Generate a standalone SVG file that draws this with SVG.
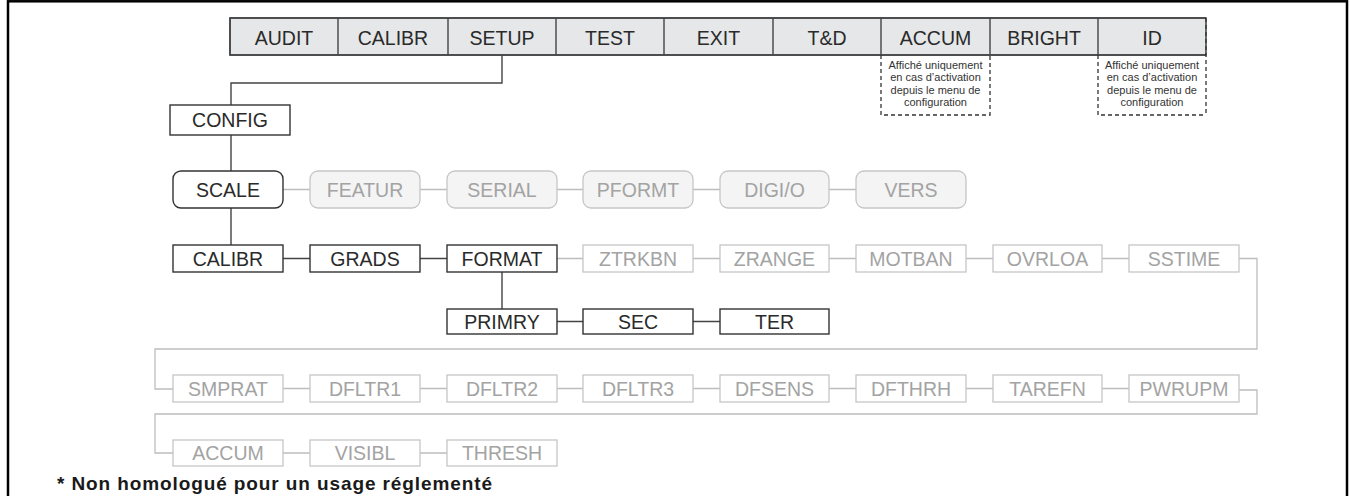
<svg xmlns="http://www.w3.org/2000/svg" width="1351" height="496" viewBox="0 0 1351 496">
<style>
text{font-family:"Liberation Sans",Arial,sans-serif;text-anchor:middle}
.lbl{font-size:19.5px;fill:#2a2a2a}
.glbl{font-size:19.5px;fill:#a3a3a3}
.note{font-size:11px;fill:#333}
.dk{fill:#fff;stroke:#333;stroke-width:1.4}
.gy{fill:#fff;stroke:#c6c6c6;stroke-width:1.3}
.gr{fill:#f4f4f4;stroke:#c6c6c6;stroke-width:1.3}
.bar{fill:#e6e7e8;stroke:#333;stroke-width:1.4}
.cd{fill:none;stroke:#444;stroke-width:1.4}
.cg{fill:none;stroke:#bdbdbd;stroke-width:1.3}
.dash{fill:none;stroke:#333;stroke-width:1.3;stroke-dasharray:4 3}
</style>
<rect x="8" y="1.3" width="1339" height="510" fill="#fff" stroke="#000" stroke-width="2.5"/>

<g id="menu-bar">
<rect class="bar" x="230" y="18" width="976" height="37" stroke="none"/>
<path class="cd" d="M1206 18H230V55H1206M338 18V55M448 18V55M556 18V55M664 18V55M773 18V55M881 18V55M990 18V55M1098 18V55"/>
<path class="dash" d="M1206 18V115"/>
</g>
<g id="m-audit"><text class="lbl" x="284" y="44.5">AUDIT</text></g>
<g id="m-calibr"><text class="lbl" x="393" y="44.5">CALIBR</text></g>
<g id="m-setup"><text class="lbl" x="502" y="44.5">SETUP</text></g>
<g id="m-test"><text class="lbl" x="610" y="44.5">TEST</text></g>
<g id="m-exit"><text class="lbl" x="718.5" y="44.5">EXIT</text></g>
<g id="m-td"><text class="lbl" x="827" y="44.5">T&amp;D</text></g>
<g id="m-accum"><text class="lbl" x="935.5" y="44.5">ACCUM</text>
<path class="dash" d="M881 55V115H990V55"/>
<text class="note" x="935.5" y="69">Affiché uniquement</text>
<text class="note" x="935.5" y="81.3">en cas d’activation</text>
<text class="note" x="935.5" y="93.6">depuis le menu de</text>
<text class="note" x="935.5" y="106">configuration</text>
</g>
<g id="m-bright"><text class="lbl" x="1044" y="44.5">BRIGHT</text></g>
<g id="m-id"><text class="lbl" x="1152" y="44.5">ID</text>
<path class="dash" d="M1098 55V115H1206"/>
<text class="note" x="1152" y="69">Affiché uniquement</text>
<text class="note" x="1152" y="81.3">en cas d’activation</text>
<text class="note" x="1152" y="93.6">depuis le menu de</text>
<text class="note" x="1152" y="106">configuration</text>
</g>

<g id="connectors">
<path class="cd" d="M502 55V83H231V105M231 135V171M231 208V245M502 272V309"/>
<path class="cd" d="M283 258.5H310M420 258.5H447M557 321.5H583M693 321.5H720"/>
<path class="cg" d="M283 189.5H310M420 189.5H447M557 189.5H583M693 189.5H720M829 189.5H856"/>
<path class="cg" d="M557 258.5H583M693 258.5H720M829 258.5H856M966 258.5H993M1102 258.5H1129M1239 258.5H1257V349H155V389H173"/>
<path class="cg" d="M283 388.5H310M420 388.5H447M557 388.5H583M693 388.5H720M829 388.5H856M966 388.5H993M1102 388.5H1129M1239 390H1257V414H155V453H173"/>
<path class="cg" d="M283 453H310M420 453H447"/>
</g>

<g id="config"><rect class="dk" x="170" y="105" width="120" height="30"/><text class="lbl" x="230" y="127">CONFIG</text></g>

<g id="scale"><rect class="dk" x="173" y="171" width="110" height="37" rx="8"/><text class="lbl" x="228" y="196.5">SCALE</text></g>
<g id="featur"><rect class="gr" x="310" y="171" width="110" height="37" rx="8"/><text class="glbl" x="365" y="196.5">FEATUR</text></g>
<g id="serial"><rect class="gr" x="447" y="171" width="110" height="37" rx="8"/><text class="glbl" x="502" y="196.5">SERIAL</text></g>
<g id="pformt"><rect class="gr" x="583" y="171" width="110" height="37" rx="8"/><text class="glbl" x="638" y="196.5">PFORMT</text></g>
<g id="digio"><rect class="gr" x="720" y="171" width="109" height="37" rx="8"/><text class="glbl" x="774.5" y="196.5">DIGI/O</text></g>
<g id="vers"><rect class="gr" x="856" y="171" width="110" height="37" rx="8"/><text class="glbl" x="911" y="196.5">VERS</text></g>

<g id="calibr"><rect class="dk" x="173" y="245" width="110" height="27"/><text class="lbl" x="228" y="266">CALIBR</text></g>
<g id="grads"><rect class="dk" x="310" y="245" width="110" height="27"/><text class="lbl" x="365" y="266">GRADS</text></g>
<g id="format"><rect class="dk" x="447" y="245" width="110" height="27"/><text class="lbl" x="502" y="266">FORMAT</text></g>
<g id="ztrkbn"><rect class="gy" x="583" y="245" width="110" height="27"/><text class="glbl" x="638" y="266">ZTRKBN</text></g>
<g id="zrange"><rect class="gy" x="720" y="245" width="109" height="27"/><text class="glbl" x="774.5" y="266">ZRANGE</text></g>
<g id="motban"><rect class="gy" x="856" y="245" width="110" height="27"/><text class="glbl" x="911" y="266">MOTBAN</text></g>
<g id="ovrloa"><rect class="gy" x="993" y="245" width="109" height="27"/><text class="glbl" x="1047.5" y="266">OVRLOA</text></g>
<g id="sstime"><rect class="gy" x="1129" y="245" width="110" height="27"/><text class="glbl" x="1184" y="266">SSTIME</text></g>

<g id="primry"><rect class="dk" x="447" y="309" width="110" height="25"/><text class="lbl" x="502" y="328.5">PRIMRY</text></g>
<g id="sec"><rect class="dk" x="583" y="309" width="110" height="25"/><text class="lbl" x="638" y="328.5">SEC</text></g>
<g id="ter"><rect class="dk" x="720" y="309" width="109" height="25"/><text class="lbl" x="774.5" y="328.5">TER</text></g>

<g id="smprat"><rect class="gy" x="173" y="375" width="110" height="27"/><text class="glbl" x="228" y="395.5">SMPRAT</text></g>
<g id="dfltr1"><rect class="gy" x="310" y="375" width="110" height="27"/><text class="glbl" x="365" y="395.5">DFLTR1</text></g>
<g id="dfltr2"><rect class="gy" x="447" y="375" width="110" height="27"/><text class="glbl" x="502" y="395.5">DFLTR2</text></g>
<g id="dfltr3"><rect class="gy" x="583" y="375" width="110" height="27"/><text class="glbl" x="638" y="395.5">DFLTR3</text></g>
<g id="dfsens"><rect class="gy" x="720" y="375" width="109" height="27"/><text class="glbl" x="774.5" y="395.5">DFSENS</text></g>
<g id="dfthrh"><rect class="gy" x="856" y="375" width="110" height="27"/><text class="glbl" x="911" y="395.5">DFTHRH</text></g>
<g id="tarefn"><rect class="gy" x="993" y="375" width="109" height="27"/><text class="glbl" x="1047.5" y="395.5">TAREFN</text></g>
<g id="pwrupm"><rect class="gy" x="1129" y="375" width="110" height="27"/><text class="glbl" x="1184" y="395.5">PWRUPM</text></g>

<g id="accum"><rect class="gy" x="173" y="440" width="110" height="26"/><text class="glbl" x="228" y="460">ACCUM</text></g>
<g id="visibl"><rect class="gy" x="310" y="440" width="110" height="26"/><text class="glbl" x="365" y="460">VISIBL</text></g>
<g id="thresh"><rect class="gy" x="447" y="440" width="110" height="26"/><text class="glbl" x="502" y="460">THRESH</text></g>

<text x="57" y="490" style="text-anchor:start;font-size:19px;font-weight:bold;fill:#1a1a1a" textLength="435" lengthAdjust="spacing">* Non homologué pour un usage réglementé</text>
</svg>
